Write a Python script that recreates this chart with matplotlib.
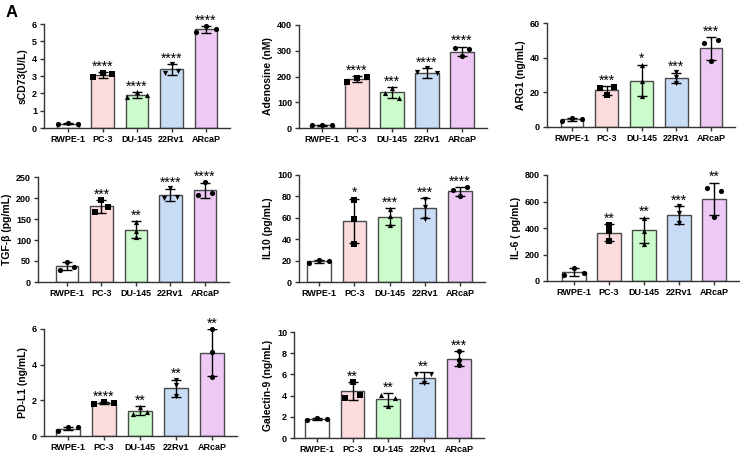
import numpy as np
import matplotlib
matplotlib.use("Agg")
import matplotlib.pyplot as plt

plt.rcParams['font.family'] = ['Liberation Sans', 'DejaVu Sans']

groups = ["RWPE-1", "PC-3", "DU-145", "22Rv1", "ARcaP"]
bar_colors = ["#ffffff", "#fcdcdc", "#ccfccc", "#c8dcf6", "#eec9f6"]
point_markers = ["o", "s", "^", "v", "o"]

# sCD73 (U/L)
scd73_mean = [0.25, 3.05, 1.90, 3.38, 5.70]
scd73_sd = [0.04, 0.17, 0.15, 0.33, 0.20]
scd73_pts = [[0.22, 0.30, 0.25], [2.92, 3.19, 3.10], [1.77, 2.06, 1.90],
             [3.17, 3.68, 3.31], [5.52, 5.88, 5.70]]
scd73_sig = ["", "****", "****", "****", "****"]

# Adenosine (nM)
aden_mean = [11, 191, 138, 214, 297]
aden_sd = [1.5, 12, 22, 18, 19]
aden_pts = [[10, 12, 11], [180, 196, 198], [157, 134, 117],
            [216, 232, 214], [310, 279, 308]]
aden_sig = ["", "****", "***", "****", "****"]

# ARG1 (ng/mL)
arg1_mean = [4.4, 21.1, 26.8, 28.2, 45.4]
arg1_sd = [0.9, 2.4, 9.2, 3.1, 6.5]
arg1_pts = [[3.7, 5.4, 4.6], [18.7, 22.4, 23.2], [36.0, 26.6, 17.6],
            [31.5, 28.6, 25.3], [48.3, 38.0, 50.0]]
arg1_sig = ["", "***", "*", "***", "***"]

# TGF-beta (pg/mL)
tgfb_mean = [37.5, 180, 125, 207, 218]
tgfb_sd = [10, 15, 20, 14, 17]
tgfb_pts = [[28.7, 48.6, 36.6], [167, 196, 177.5], [144, 122, 106],
            [200, 223, 202], [208, 237, 212]]
tgfb_sig = ["", "***", "**", "****", "****"]

# IL10 (pg/mL)
il10_mean = [19.4, 57, 61, 69, 84.7]
il10_sd = [1.5, 21, 7.8, 9.5, 4.1]
il10_pts = [[18, 21, 20], [77, 59, 35.6], [68, 62, 53],
            [78, 70, 59], [86, 80.6, 88.4]]
il10_sig = ["", "*", "***", "***", "****"]

# IL-6 (pg/mL)
il6_mean = [68, 366, 382, 497, 619]
il6_sd = [30, 62, 96, 68, 124]
il6_pts = [[45, 98, 63], [419, 381, 300], [477, 374, 283],
           [566, 510, 434], [699, 480, 679]]
il6_sig = ["", "**", "**", "***", "**"]

# PD-L1 (ng/mL)
pdl1_mean = [0.41, 1.84, 1.42, 2.68, 4.66]
pdl1_sd = [0.07, 0.05, 0.25, 0.48, 1.32]
pdl1_pts = [[0.30, 0.48, 0.48], [1.81, 1.92, 1.86], [1.25, 1.62, 1.32],
            [3.15, 2.85, 2.22], [5.98, 4.73, 3.33]]
pdl1_sig = ["", "****", "**", "**", "**"]

# Galectin-9 (ng/mL)
gal9_mean = [1.80, 4.40, 3.65, 5.70, 7.48]
gal9_sd = [0.07, 0.85, 0.60, 0.52, 0.69]
gal9_pts = [[1.73, 1.89, 1.82], [3.80, 5.28, 4.09], [4.09, 2.99, 3.77],
            [6.07, 5.19, 6.00], [8.18, 7.33, 6.86]]
gal9_sig = ["", "**", "**", "**", "***"]

# panel: ylabel, data, yticks, layout in px (axis x, first bar centre, last bar centre, top, bottom)
panels = [
    ("sCD73(U/L)", scd73_mean, scd73_sd, scd73_pts, scd73_sig, np.arange(0, 7, 1), (44, 68, 206, 24, 128)),
    ("Adenosine (nM)", aden_mean, aden_sd, aden_pts, aden_sig, np.arange(0, 401, 100), (299, 322, 462, 25, 128)),
    ("ARG1 (ng/mL)", arg1_mean, arg1_sd, arg1_pts, arg1_sig, np.arange(0, 61, 20), (547, 572, 711, 23, 127)),
    ("TGF-β (pg/mL)", tgfb_mean, tgfb_sd, tgfb_pts, tgfb_sig, np.arange(0, 251, 50), (38, 67, 205, 177, 282)),
    ("IL10 (pg/mL)", il10_mean, il10_sd, il10_pts, il10_sig, np.arange(0, 101, 20), (299, 319, 460, 175, 282)),
    ("IL-6 ( pg/mL)", il6_mean, il6_sd, il6_pts, il6_sig, np.arange(0, 801, 200), (547, 574, 714, 175, 281)),
    ("PD-L1 (ng/mL)", pdl1_mean, pdl1_sd, pdl1_pts, pdl1_sig, np.arange(0, 7, 2), (44, 68, 212, 329, 436)),
    ("Galectin-9 (ng/mL)", gal9_mean, gal9_sd, gal9_pts, gal9_sig, np.arange(0, 11, 2), (294, 317, 459, 332, 438)),
]

W, H = 740, 459


def spread(vals, thr):
    # horizontal offsets for points that would overlap (GraphPad-like)
    vals = np.asarray(vals, float)
    order = np.argsort(vals)
    clusters, cur = [], [order[0]]
    for a, b in zip(order[:-1], order[1:]):
        if vals[b] - vals[a] < thr:
            cur.append(b)
        else:
            clusters.append(cur)
            cur = [b]
    clusters.append(cur)
    off = np.zeros(len(vals))
    for c in clusters:
        c = sorted(c)
        if len(c) == 2:
            off[c] = [-0.2, 0.2]
        elif len(c) >= 3:
            off[c] = np.linspace(-0.28, 0.28, len(c))
    return off


fig = plt.figure(figsize=(W / 100, H / 100), dpi=100)
x = np.arange(len(groups))

for ylabel, mean, sd, pts, sig, yticks, (x0, c0, c4, top, bot) in panels:
    s = (c4 - c0) / 4
    right = c4 + 0.7 * s
    ax = fig.add_axes([x0 / W, 1 - bot / H, (right - x0) / W, (bot - top) / H])
    ax.bar(x, mean, width=0.66, color=bar_colors, edgecolor="#4a4a4a", linewidth=1.0, zorder=1)
    ax.errorbar(x, mean, yerr=sd, fmt="none", ecolor="black", elinewidth=1.0,
                capsize=3.6, capthick=1.0, zorder=3)
    ymax = yticks[-1]
    for i in range(len(groups)):
        off = spread(pts[i], 0.045 * ymax)
        ax.scatter(x[i] + off, pts[i], marker=point_markers[i], s=14, color="black",
                   linewidths=0, zorder=4, clip_on=False)
        if sig[i]:
            ytop = max(mean[i] + sd[i], max(pts[i]))
            ax.annotate(sig[i], (x[i], ytop), xytext=(0, 1.0), textcoords="offset points",
                        ha="center", va="baseline", fontsize=10, annotation_clip=False)
    ax.set_xlim(-(c0 - x0) / s, 4.7)
    ax.set_ylim(0, ymax)
    ax.set_yticks(yticks)
    ax.set_xticks(x)
    ax.set_xticklabels(groups)
    ax.set_ylabel(ylabel, fontsize=7.5, fontweight="bold", labelpad=3)
    for sp in ["top", "right"]:
        ax.spines[sp].set_visible(False)
    for sp in ["left", "bottom"]:
        ax.spines[sp].set_linewidth(1.0)
        ax.spines[sp].set_color("#333333")
    ax.tick_params(axis="both", length=3, width=1.0, color="#333333", labelsize=6.5, pad=2)
    for lab in ax.get_xticklabels() + ax.get_yticklabels():
        lab.set_fontweight("bold")

fig.text(0.008, 0.99, "A", fontsize=12, fontweight="bold", va="top", ha="left")

fig.savefig("out.png", dpi=100)
